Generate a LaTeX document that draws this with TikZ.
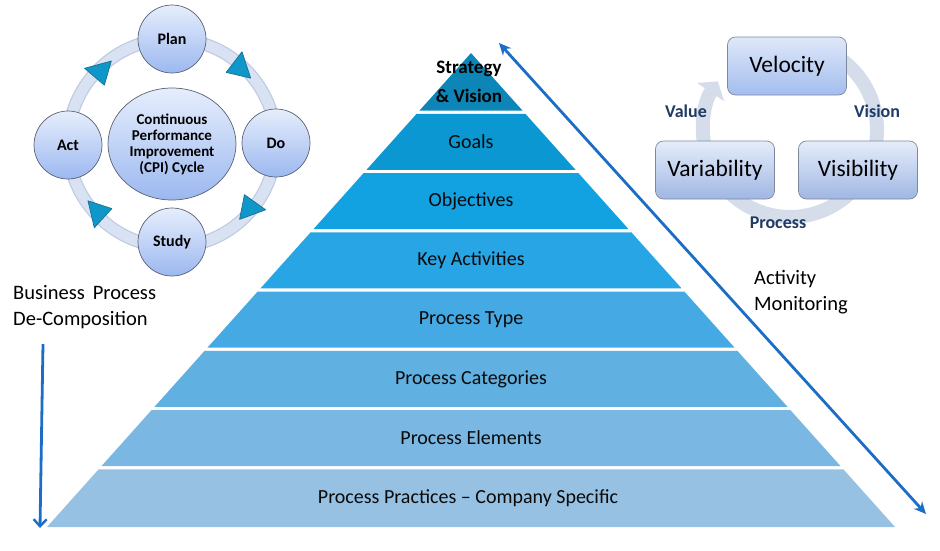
\documentclass[tikz,border=0pt]{standalone}
\usepackage{fontspec}
\setmainfont{Carlito}
\usepackage{tikz}
\usetikzlibrary{calc,arrows.meta,shapes.geometric}
\definecolor{bandA}{HTML}{0D86B7}
\definecolor{bandB}{HTML}{0B97D1}
\definecolor{bandC}{HTML}{12A2E2}
\definecolor{bandD}{HTML}{27A5E5}
\definecolor{bandE}{HTML}{45A9E3}
\definecolor{bandF}{HTML}{60B0E1}
\definecolor{bandG}{HTML}{7BB7E3}
\definecolor{bandH}{HTML}{96C1E3}
\definecolor{cyctop}{HTML}{E6EEFC}
\definecolor{cycbot}{HTML}{9CB8F0}
\definecolor{cycline}{HTML}{5B6272}
\definecolor{ringfill}{HTML}{D9E2F3}
\definecolor{ringedge}{HTML}{BFCBE3}
\definecolor{tricol}{HTML}{1097C9}
\definecolor{triline}{HTML}{1B6F90}
\definecolor{boxtop}{HTML}{DFE8F9}
\definecolor{boxbot}{HTML}{A3BDEE}
\definecolor{boxline}{HTML}{7E889C}
\definecolor{vring}{HTML}{D5DCEA}
\definecolor{navy}{HTML}{1F3B63}
\definecolor{arrowblue}{HTML}{1C6DC5}
\definecolor{txtdark}{HTML}{0A0A0A}

\begin{document}
\begin{tikzpicture}[x=1pt,y=-1pt,
    lvl/.style={inner sep=0pt,text=txtdark,font=\fontsize{20}{24}\selectfont},
    side/.style={inner sep=0pt,anchor=west,align=left,font=\fontsize{20.5}{25.5}\selectfont},
    pdca/.style={circle,draw=cycline,line width=0.7pt,minimum size=68pt,inner sep=0pt,
        top color=cyctop,bottom color=cycbot,font=\bfseries\fontsize{16}{16}\selectfont},
    core/.style={ellipse,draw=cycline,line width=0.7pt,minimum width=128pt,minimum height=112pt,
        inner sep=0pt,align=center,top color=cyctop,bottom color=cycbot,
        font=\bfseries\fontsize{15}{16}\selectfont},
    tri/.style={fill=tricol,draw=triline,line width=0.7pt,line join=round},
    vbox/.style={rectangle,rounded corners=8pt,draw=boxline,line width=0.7pt,
        minimum width=119pt,minimum height=58pt,top color=boxtop,bottom color=boxbot,
        font=\fontsize{23.5}{26}\selectfont},
    tag/.style={inner sep=0pt,text=navy,font=\bfseries\fontsize{18}{20}\selectfont},
    link/.style={draw=arrowblue,line width=2.8pt}]
\useasboundingbox (0,0) rectangle (940,550);

\coordinate (A) at (471,53);
\coordinate (L) at (47,527);
\coordinate (R) at (895,527);
\fill[bandA] (A) -- ($(A)!0.1218!(R)$) -- ($(A)!0.1218!(L)$) -- cycle;
\fill[bandB] ($(A)!0.1282!(L)$) -- ($(A)!0.1282!(R)$) -- ($(A)!0.2468!(R)$) -- ($(A)!0.2468!(L)$) -- cycle;
\fill[bandC] ($(A)!0.2532!(L)$) -- ($(A)!0.2532!(R)$) -- ($(A)!0.3718!(R)$) -- ($(A)!0.3718!(L)$) -- cycle;
\fill[bandD] ($(A)!0.3782!(L)$) -- ($(A)!0.3782!(R)$) -- ($(A)!0.4968!(R)$) -- ($(A)!0.4968!(L)$) -- cycle;
\fill[bandE] ($(A)!0.5032!(L)$) -- ($(A)!0.5032!(R)$) -- ($(A)!0.6218!(R)$) -- ($(A)!0.6218!(L)$) -- cycle;
\fill[bandF] ($(A)!0.6282!(L)$) -- ($(A)!0.6282!(R)$) -- ($(A)!0.7468!(R)$) -- ($(A)!0.7468!(L)$) -- cycle;
\fill[bandG] ($(A)!0.7532!(L)$) -- ($(A)!0.7532!(R)$) -- ($(A)!0.8718!(R)$) -- ($(A)!0.8718!(L)$) -- cycle;
\fill[bandH] ($(A)!0.8782!(L)$) -- ($(A)!0.8782!(R)$) -- (R) -- (L) -- cycle;

\node[lvl,align=center,text=black,font=\bfseries\fontsize{19}{29}\selectfont] (s1) at (469,82) {Strategy\\\& Vision};
\node[lvl] (s2) at (471,142) {Goals};
\node[lvl] (s3) at (471,201) {Objectives};
\node[lvl] (s4) at (471,260) {Key Activities};
\node[lvl] (s5) at (471,320) {Process Type};
\node[lvl] (s6) at (471,379) {Process Categories};
\node[lvl] (s7) at (471,438) {Process Elements};
\node[lvl] (s8) at (468,498) {Process Practices -- Company Specific};

\node[side] (bp) at (13,307) {Business\, Process\\De-Composition};
\node[side] (am) at (754,292) {Activity\\Monitoring};

\coordinate (d1) at (43,344);
\coordinate (d2) at (40,528);
\draw[link,-{Straight Barb[length=7pt,width=13pt,line width=2.4pt]}] (d1) -- (d2);
\coordinate (m1) at (499,43);
\coordinate (m2) at (926,514);
\draw[link,{Stealth[length=12pt,width=11pt]}-{Stealth[length=12pt,width=11pt]}] (m1) -- (m2);

\coordinate (hub) at (172,143);
\draw[ringedge,line width=13pt] (hub) circle[radius=104];
\draw[ringfill,line width=10.5pt] (hub) circle[radius=104];
\draw[tri] ($(hub)+(-39.5:102)$) -- ($(hub)+(-52.5:89)$) -- ($(hub)+(-52.5:115)$) -- cycle;
\draw[tri] ($(hub)+(48.5:102)$) -- ($(hub)+(35.5:89)$) -- ($(hub)+(35.5:115)$) -- cycle;
\draw[tri] ($(hub)+(145.5:102)$) -- ($(hub)+(132.5:89)$) -- ($(hub)+(132.5:115)$) -- cycle;
\draw[tri] ($(hub)+(-126.5:102)$) -- ($(hub)+(-139.5:89)$) -- ($(hub)+(-139.5:115)$) -- cycle;
\node[core] (cpi) at (172,144) {Continuous\\Performance\\Improvement\\(CPI) Cycle};
\node[pdca] (plan) at (172,39) {Plan};
\node[pdca] (do) at (276,143) {Do};
\node[pdca] (study) at (172,242) {Study};
\node[pdca] (act) at (68,145) {Act};

\coordinate (vhub) at (790,130);
\draw[vring,line width=14pt,-{Triangle[length=13pt,width=32pt]}] ($(vhub)+(-75:87)$) arc[start angle=-75,end angle=214,radius=87];
\node[vbox] (vel) at (787,66) {Velocity};
\node[vbox,top color=boxtop!80!white,bottom color=boxbot!90!gray] (var) at (715,170) {Variability};
\node[vbox,top color=boxtop!80!white,bottom color=boxbot!90!gray] (vis) at (858,170) {Visibility};
\node[tag] (val) at (686,111) {Value};
\node[tag] (vsn) at (877,111) {Vision};
\node[tag] (prc) at (778,223) {Process};
\end{tikzpicture}
\end{document}
